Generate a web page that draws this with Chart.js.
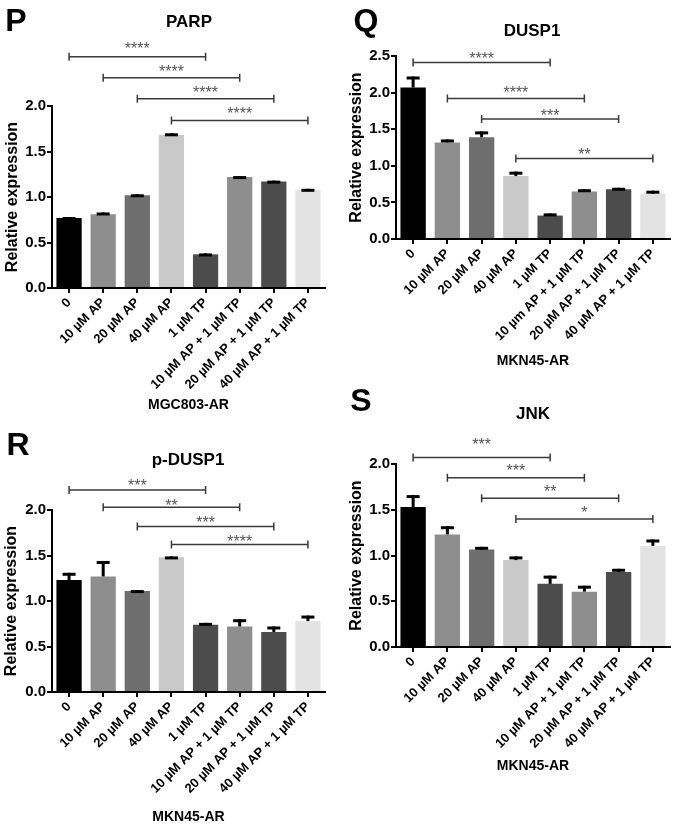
<!DOCTYPE html>
<html>
<head>
<meta charset="utf-8">
<script src="https://cdn.jsdelivr.net/npm/chart.js@4.4.1/dist/chart.umd.min.js"></script>
<style>
body { margin: 0; background: #fff; }
#wrap { position: relative; width: 677px; height: 828px; overflow: hidden; font-family: "Liberation Sans", Arial, sans-serif; }
canvas { position: absolute; }
.lbl { position: absolute; transform: translate(-50%, -50%); font-weight: bold; line-height: 1; white-space: nowrap; color: #000; }
.letter { font-size: 32px; }
.ttl { font-size: 17px; }
</style>
</head>
<body>
<div id="wrap">
  <canvas id="chartP" width="338" height="420" style="left:0;top:0"></canvas>
  <canvas id="chartQ" width="339" height="376" style="left:338px;top:0"></canvas>
  <canvas id="chartR" width="338" height="408" style="left:0;top:420px"></canvas>
  <canvas id="chartS" width="339" height="400" style="left:338px;top:380px"></canvas>

  <div class="lbl letter" style="left:16px;top:20px">P</div>
  <div class="lbl letter" style="left:366px;top:20px">Q</div>
  <div class="lbl letter" style="left:18px;top:444px">R</div>
  <div class="lbl letter" style="left:361px;top:400px">S</div>

  <div class="lbl ttl" style="left:189px;top:21px">PARP</div>
  <div class="lbl ttl" style="left:532px;top:30px">DUSP1</div>
  <div class="lbl ttl" style="left:188px;top:459px">p-DUSP1</div>
  <div class="lbl ttl" style="left:533px;top:413px">JNK</div>
</div>
<script>
var categories = ["0", "10 µM AP", "20 µM AP", "40 µM AP", "1 µM TP",
    "10 µM AP + 1 µM TP", "20 µM AP + 1 µM TP", "40 µM AP + 1 µM TP"];
var categoriesQ = ["0", "10 µM AP", "20 µM AP", "40 µM AP", "1 µM TP",
    "10 µm AP + 1 µM TP", "20 µM AP + 1 µM TP", "40 µM AP + 1 µM TP"];
var barColors = ["#000000", "#8e8e8e", "#6e6e6e", "#c9c9c9", "#4c4c4c", "#8e8e8e", "#4c4c4c", "#e3e3e3"];

// PARP, MGC803-AR
var parpMean = [0.77, 0.81, 1.02, 1.68, 0.37, 1.22, 1.17, 1.08];
var parpSem = [0.01, 0.02, 0.01, 0.02, 0.01, 0.01, 0.01, 0.01];
var parpBracket = [2.54, 2.31, 2.08, 1.84];
var parpStarY = [2.67, 2.42, 2.19, 1.955];
var parpStars = ["****", "****", "****", "****"];

// DUSP1, MKN45-AR
var dusp1Mean = [2.07, 1.32, 1.39, 0.86, 0.32, 0.65, 0.68, 0.62];
var dusp1Sem = [0.15, 0.04, 0.08, 0.06, 0.03, 0.03, 0.02, 0.04];
var dusp1Bracket = [2.41, 1.92, 1.64, 1.10];
var dusp1StarY = [2.51, 2.05, 1.74, 1.20];
var dusp1Stars = ["****", "****", "***", "**"];

// p-DUSP1, MKN45-AR
var pdusp1Mean = [1.23, 1.27, 1.11, 1.48, 0.74, 0.72, 0.66, 0.78];
var pdusp1Sem = [0.08, 0.17, 0.01, 0.01, 0.02, 0.08, 0.06, 0.06];
var pdusp1Bracket = [2.22, 2.03, 1.82, 1.62];
var pdusp1StarY = [2.31, 2.09, 1.90, 1.69];
var pdusp1Stars = ["***", "**", "***", "****"];

// JNK, MKN45-AR
var jnkMean = [1.53, 1.23, 1.065, 0.95, 0.69, 0.605, 0.82, 1.105];
var jnkSem = [0.13, 0.09, 0.03, 0.04, 0.09, 0.065, 0.035, 0.07];
var jnkBracket = [2.07, 1.85, 1.625, 1.40];
var jnkStarY = [2.25, 1.97, 1.74, 1.51];
var jnkStars = ["***", "***", "**", "*"];

var pairs = [[0, 4], [1, 5], [2, 6], [3, 7]];
var family = "'Liberation Sans', Arial, sans-serif";

// error bars (upper only) + significance brackets
var extras = {
    id: "extras",
    afterDatasetsDraw: function (chart, args, opts) {
        var ctx = chart.ctx;
        var x = chart.scales.x;
        var y = chart.scales.y;
        var meta = chart.getDatasetMeta(0);
        ctx.save();
        ctx.fillStyle = "#000";
        meta.data.forEach(function (bar, i) {
            var top = y.getPixelForValue(opts.mean[i]);
            var end = y.getPixelForValue(opts.mean[i] + opts.sem[i]);
            ctx.fillRect(bar.x - 1.5, end, 3, top - end);
            ctx.fillRect(bar.x - 6.5, end, 13, 3);
        });

        ctx.strokeStyle = "#3a3a3a";
        ctx.lineWidth = 1.5;
        ctx.font = "16px " + family;
        ctx.textAlign = "center";
        ctx.textBaseline = "alphabetic";
        for (var k = 0; k < pairs.length; k++) {
            var x1 = x.getPixelForValue(pairs[k][0]);
            var x2 = x.getPixelForValue(pairs[k][1]);
            var yy = y.getPixelForValue(opts.levels[k]);
            ctx.beginPath();
            ctx.moveTo(x1, yy);
            ctx.lineTo(x2, yy);
            ctx.moveTo(x1, yy - 4);
            ctx.lineTo(x1, yy + 4);
            ctx.moveTo(x2, yy - 4);
            ctx.lineTo(x2, yy + 4);
            ctx.stroke();
            ctx.fillStyle = "#555";
            ctx.fillText(opts.stars[k], (x1 + x2) / 2, y.getPixelForValue(opts.starY[k]) + 9);
        }
        ctx.restore();
    },
};

function makeChart(id, labels, mean, sem, yMax, box, levels, starY, stars, xTitle) {
    return new Chart(document.getElementById(id), {
        type: "bar",
        data: {
            labels: labels,
            datasets: [
                {
                    data: mean,
                    backgroundColor: barColors,
                    borderWidth: 0,
                    categoryPercentage: 1,
                    barPercentage: 0.74,
                },
            ],
        },
        options: {
            responsive: false,
            animation: false,
            layout: { padding: { left: 0, top: box.top, right: box.right, bottom: 0 } },
            plugins: {
                legend: { display: false },
                tooltip: { enabled: false },
                extras: { mean: mean, sem: sem, levels: levels, starY: starY, stars: stars },
            },
            scales: {
                x: {
                    grid: { offset: false, drawOnChartArea: false, color: "#000", lineWidth: 2, tickLength: 5 },
                    border: { color: "#000", width: 2 },
                    ticks: {
                        color: "#000",
                        font: { family: family, size: 13, weight: "bold" },
                        minRotation: 45,
                        maxRotation: 45,
                        padding: 2,
                        autoSkip: false,
                    },
                    title: {
                        display: true,
                        text: xTitle,
                        color: "#000",
                        font: { family: family, size: 14, weight: "bold" },
                        padding: { top: 0, bottom: box.xTitlePad },
                    },
                    afterFit: function (s) {
                        s.height = box.xh;
                    },
                },
                y: {
                    min: 0,
                    max: yMax,
                    grid: { drawOnChartArea: false, color: "#000", lineWidth: 2, tickLength: 5 },
                    border: { color: "#000", width: 2 },
                    ticks: {
                        stepSize: 0.5,
                        color: "#000",
                        padding: 1,
                        font: { family: family, size: 15, weight: "bold" },
                        callback: function (v) {
                            return v.toFixed(1);
                        },
                    },
                    title: {
                        display: true,
                        text: "Relative expression",
                        color: "#000",
                        font: { family: family, size: 16, weight: "bold" },
                        padding: { top: box.yTitlePad, bottom: 0 },
                    },
                    afterFit: function (s) {
                        s.width = box.left;
                    },
                },
            },
        },
        plugins: [extras],
    });
}

makeChart("chartP", categories, parpMean, parpSem, 2.0,
    { left: 52, right: 13, top: 106, xh: 132, xTitlePad: 6, yTitlePad: 3 },
    parpBracket, parpStarY, parpStars, "MGC803-AR");
makeChart("chartQ", categoriesQ, dusp1Mean, dusp1Sem, 2.5,
    { left: 58, right: 7, top: 56, xh: 137, xTitlePad: 6, yTitlePad: 9 },
    dusp1Bracket, dusp1StarY, dusp1Stars, "MKN45-AR");
makeChart("chartR", categories, pdusp1Mean, pdusp1Sem, 2.0,
    { left: 52, right: 13, top: 90, xh: 136, xTitlePad: 2, yTitlePad: 2 },
    pdusp1Bracket, pdusp1StarY, pdusp1Stars, "MKN45-AR");
makeChart("chartS", categories, jnkMean, jnkSem, 2.0,
    { left: 58, right: 7, top: 84, xh: 133, xTitlePad: 5, yTitlePad: 9 },
    jnkBracket, jnkStarY, jnkStars, "MKN45-AR");
</script>
</body>
</html>
